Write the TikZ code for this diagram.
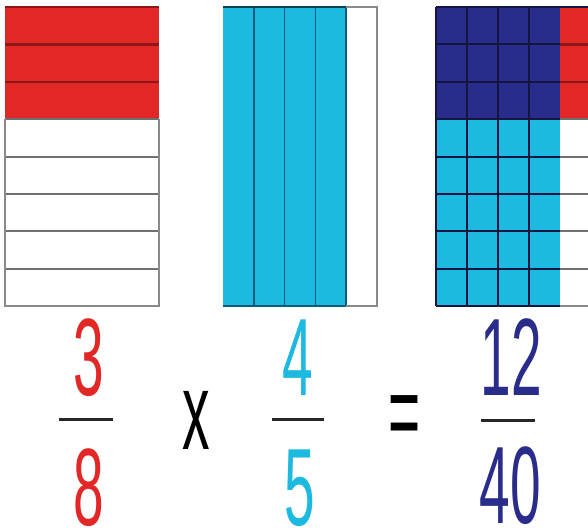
\documentclass[tikz,border=0pt]{standalone}
\usepackage{fontspec}
\setmainfont{Liberation Sans}
\newfontfamily\narrowfont[FakeStretch=0.5]{Liberation Sans}
\definecolor{fred}{HTML}{E22727}
\definecolor{dred}{HTML}{8E1818}
\definecolor{fcyan}{HTML}{1CB9E0}
\definecolor{dcyan}{HTML}{0F5E78}
\definecolor{fnavy}{HTML}{2A2C8C}
\definecolor{dnavy}{HTML}{14163F}
\definecolor{gline}{HTML}{707070}
\definecolor{gborder}{HTML}{8A8A8A}
\tikzset{
  num/.style={font=\narrowfont\fontsize{110}{110}\selectfont, inner sep=0pt, anchor=base},
  fracbar/.style={line width=3pt, draw=black!85},
  redline/.style={draw=dred, line width=2.5pt},
  greyline/.style={draw=gline, line width=2pt},
  cyanline/.style={draw=dcyan, line width=1.5pt},
  navyline/.style={draw=dnavy, line width=2pt},
  outline/.style={draw=gborder, line width=2pt}
}
\begin{document}
\begin{tikzpicture}[x=1pt,y=-1pt]
\useasboundingbox (0,0) rectangle (588,531);
\clip (0,0) rectangle (588,531);
\fill[white] (0,0) rectangle (588,531);
\pgfmathsetmacro\h{37.375}
% ---- Box 1: 3/8 ----
\fill[fred] (5,7) rectangle (159,{7+3*\h});
\foreach \i in {1,2} \draw[redline] (5,{7+\i*\h}) -- (159,{7+\i*\h});
\foreach \i in {3,...,7} \draw[greyline] (5,{7+\i*\h}) -- (159,{7+\i*\h});
\draw[dred, line width=2pt] (5,7) -- (159,7);
\draw[outline] (5,{7+3*\h}) -- (5,306) -- (159,306) -- (159,{7+3*\h});
% ---- Box 2: 4/5 ----
\fill[fcyan] (223,7) rectangle (346,306);
\foreach \k in {1,2,3,4} \draw[cyanline] ({223+\k*30.8},7) -- ({223+\k*30.8},306);
\draw[outline] (346,7) -- (377,7) -- (377,306) -- (346,306);
\draw[draw=dcyan!70!black, line width=2pt] (223,7) -- (346,7);
\draw[draw=dcyan, line width=1.5pt] (223,306) -- (346,306);
% ---- Box 3: 12/40 ----
\fill[fnavy] (436,7) rectangle (560,{7+3*\h});
\fill[fred] (560,7) rectangle (600,{7+3*\h});
\fill[fcyan] (436,{7+3*\h}) rectangle (560,306);
\foreach \i in {1,2} {
  \draw[navyline] (436,{7+\i*\h}) -- (560,{7+\i*\h});
  \draw[redline] (560,{7+\i*\h}) -- (600,{7+\i*\h});
}
\foreach \i in {3,...,7} {
  \draw[navyline] (436,{7+\i*\h}) -- (560,{7+\i*\h});
  \draw[greyline] (560,{7+\i*\h}) -- (600,{7+\i*\h});
}
\foreach \k in {1,2,3} \draw[navyline] ({436+\k*31},7) -- ({436+\k*31},306);
\draw[navyline] (436,7) -- (600,7);
\draw[navyline] (436,7) -- (436,306);
\draw[navyline] (436,306) -- (560,306);
\draw[outline] (560,306) -- (600,306);
% ---- Numbers ----
\node[num, text=fred] (n1) at (88.5,395) {3};
\draw[fracbar] (59,419) -- (113,419);
\node[num, text=fred] (d1) at (89,525) {8};
\node[num, text=black] (times) at (196,449) {x};
\node[num, text=fcyan] (n2) at (298,395) {4};
\draw[fracbar] (272,419) -- (324,419);
\node[num, text=fcyan] (d2) at (299.5,525) {5};
\node[num, text=black] (eq) at (405,449) {=};
\node[num, text=fnavy] (n3) at (511,395) {12};
\draw[fracbar] (481,420) -- (535,420);
\node[num, text=fnavy] (d3) at (510,523) {40};
\end{tikzpicture}
\end{document}
